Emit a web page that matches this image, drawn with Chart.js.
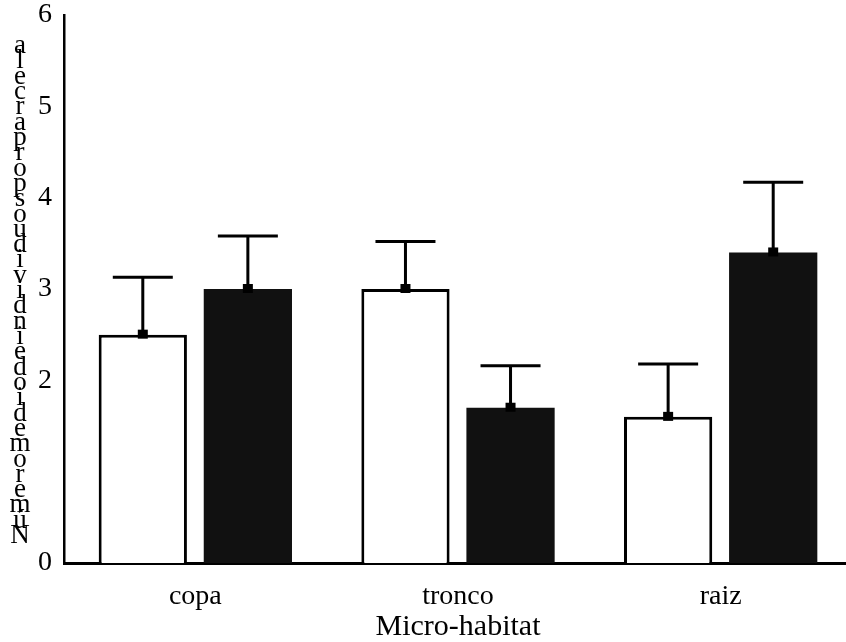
<!DOCTYPE html>
<html lang="es">
<head>
<meta charset="utf-8">
<title>Micro-habitat</title>
<script src="https://cdn.jsdelivr.net/npm/chart.js@4.4.1/dist/chart.umd.min.js"></script>
<style>
    html, body { margin: 0; padding: 0; background: #fff; overflow: hidden; }
    #wrap { position: relative; width: 852px; height: 642px; }
</style>
</head>
<body>
<div id="wrap"><canvas id="chart"></canvas></div>
<script>
// Datos
const categories = ['copa', 'tronco', 'raiz'];
const whiteValues = [2.5, 3.0, 1.6];
const whiteErrors = [0.63, 0.52, 0.58];
const blackValues = [3.0, 1.7, 3.4];
const blackErrors = [0.58, 0.46, 0.77];
const yTickLabels = ['0', '', '2', '3', '4', '5', '6'];
const yTitle = 'Número medio de individuos por parcela';
const xTitle = 'Micro-habitat';

document.addEventListener('DOMContentLoaded', () => {
    const serif = "'Liberation Serif', 'Times New Roman', serif";

    // Barras de error (solo hacia arriba) con marcador en el tope de la barra
    const errorBars = {
        id: 'errorBars',
        afterDatasetsDraw(chart) {
            const ctx = chart.ctx;
            const yScale = chart.scales.y;
            chart.data.datasets.forEach((ds, di) => {
                const meta = chart.getDatasetMeta(di);
                meta.data.forEach((bar, i) => {
                    const top = yScale.getPixelForValue(ds.data[i] + ds.errors[i]);
                    ctx.save();
                    ctx.strokeStyle = '#000';
                    ctx.lineWidth = 3;
                    ctx.beginPath();
                    ctx.moveTo(bar.x, bar.y);
                    ctx.lineTo(bar.x, top);
                    ctx.moveTo(bar.x - 30, top);
                    ctx.lineTo(bar.x + 30, top);
                    ctx.stroke();
                    ctx.fillStyle = '#000';
                    ctx.fillRect(bar.x - 5, bar.y - 5, 10, 9);
                    ctx.restore();
                });
            });
        }
    };

    // Título del eje Y: letras apiladas en orden inverso, como en la figura
    const stackedTitle = {
        id: 'stackedTitle',
        afterDraw(chart) {
            const ctx = chart.ctx;
            const chars = Array.from(yTitle).reverse().filter(c => c !== ' ');
            const first = 46, last = 536;
            const step = (last - first) / (chars.length - 1);
            ctx.save();
            ctx.fillStyle = '#000';
            ctx.font = '27px ' + serif;
            ctx.textAlign = 'center';
            ctx.textBaseline = 'middle';
            chars.forEach((c, i) => ctx.fillText(c, 20, first + i * step));
            ctx.restore();
        }
    };

    const whiteBg = {
        id: 'whiteBg',
        beforeDraw(chart) {
            const ctx = chart.ctx;
            ctx.save();
            ctx.fillStyle = '#fff';
            ctx.fillRect(0, 0, chart.width, chart.height);
            ctx.restore();
        }
    };

    new Chart(document.getElementById('chart'), {
        type: 'bar',
        data: {
            labels: categories,
            datasets: [{
                data: whiteValues,
                errors: whiteErrors,
                backgroundColor: '#fff',
                borderColor: '#000',
                borderWidth: 3
            }, {
                data: blackValues,
                errors: blackErrors,
                backgroundColor: '#111',
                borderColor: '#111',
                borderWidth: 0
            }]
        },
        options: {
            responsive: true,
            maintainAspectRatio: false,
            animation: false,
            layout: { padding: { top: 15, right: 0, left: 0, bottom: 0 } },
            categoryPercentage: 0.8,
            barPercentage: 0.84,
            plugins: {
                legend: { display: false },
                tooltip: { enabled: false }
            },
            scales: {
                x: {
                    afterFit: (scale) => { scale.height = 79; },
                    grid: { display: false, drawTicks: false },
                    border: { color: '#000', width: 3 },
                    ticks: { color: '#000', padding: 17, font: { family: serif, size: 28 } },
                    title: {
                        display: true,
                        text: xTitle,
                        color: '#000',
                        padding: { top: 0, bottom: -3 },
                        font: { family: serif, size: 30 }
                    }
                },
                y: {
                    min: 0,
                    max: 6,
                    afterFit: (scale) => {
                        scale.width = 64;
                        scale.paddingTop = 0;
                        scale.paddingBottom = 0;
                    },
                    grid: { display: false, drawTicks: false },
                    border: { color: '#000', width: 2.5 },
                    ticks: {
                        stepSize: 1,
                        color: '#000',
                        padding: 12,
                        font: { family: serif, size: 28 },
                        callback: (v, i) => yTickLabels[i]
                    }
                }
            }
        },
        plugins: [whiteBg, errorBars, stackedTitle]
    });
});
</script>
</body>
</html>
